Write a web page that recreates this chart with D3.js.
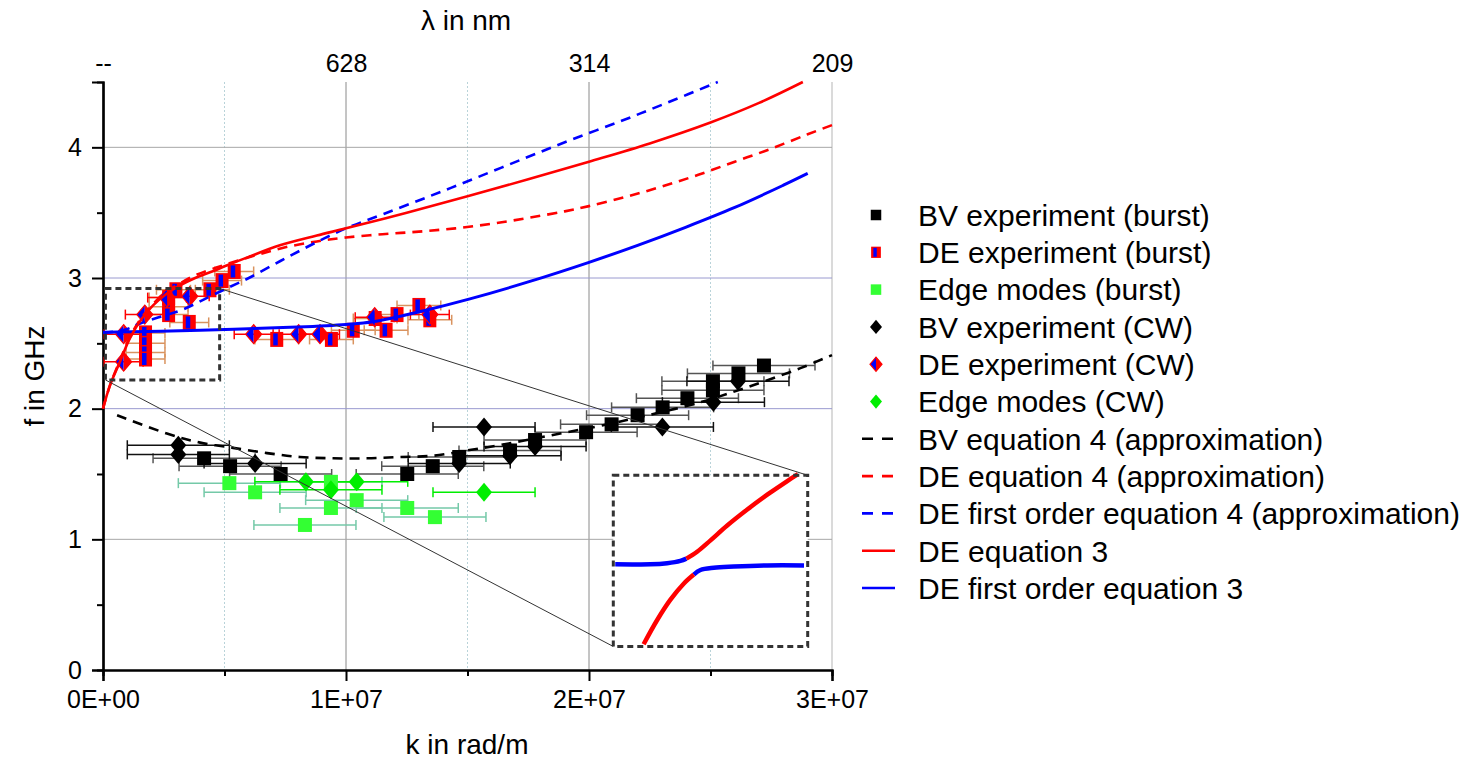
<!DOCTYPE html>
<html>
<head>
<meta charset="utf-8">
<script src="https://cdn.jsdelivr.net/npm/d3@7/dist/d3.min.js"></script>
<style>
    body { margin: 0; background: #fff; }
    text { font-family: "Liberation Sans", Arial, sans-serif; fill: #000; }
</style>
</head>
<body>
<svg id="chart" width="1466" height="763"></svg>
<script>
// axis ticks
const xTicks = [0, 1e7, 2e7, 3e7];
const xTickLabels = ['0E+00', '1E+07', '2E+07', '3E+07'];
const xMinorTicks = [0.5e7, 1.5e7, 2.5e7];
const topTickLabels = ['--', '628', '314', '209'];
const yTicks = [0, 1, 2, 3, 4];
const yMinorTicks = [0.5, 1.5, 2.5, 3.5];

// measured points, k in rad/m, f in GHz, err = k uncertainty
const bvBurstK = [4.16e6, 5.23e6, 7.31e6, 12.52e6, 13.57e6, 14.66e6, 16.75e6, 17.78e6, 19.88e6, 20.93e6, 22.0e6, 23.03e6, 24.05e6, 25.1e6, 25.1e6, 26.15e6, 27.2e6];
const bvBurstF = [1.62, 1.56, 1.50, 1.50, 1.56, 1.63, 1.68, 1.76, 1.82, 1.88, 1.95, 2.01, 2.08, 2.21, 2.14, 2.27, 2.33];
const bvBurstErr = [2.1e6, 2.1e6, 2.1e6, 2.1e6, 2.1e6, 2.1e6, 2.1e6, 2.1e6, 2.1e6, 2.1e6, 2.1e6, 2.1e6, 2.1e6, 2.1e6, 2.1e6, 2.1e6, 2.1e6];

const deBurstK = [1.75e6, 1.75e6, 1.75e6, 1.75e6, 2.7e6, 2.7e6, 2.7e6, 3.0e6, 3.55e6, 4.4e6, 4.9e6, 5.4e6, 7.15e6, 9.4e6, 10.3e6, 11.65e6, 11.2e6, 12.1e6, 13.0e6, 13.45e6];
const deBurstF = [2.58, 2.50, 2.43, 2.38, 2.85, 2.78, 2.72, 2.91, 2.66, 2.91, 2.98, 3.05, 2.53, 2.53, 2.60, 2.60, 2.69, 2.72, 2.79, 2.68];
const deBurstErr = [0.8e6, 0.8e6, 0.8e6, 0.8e6, 0.8e6, 0.8e6, 0.8e6, 0.8e6, 0.8e6, 0.8e6, 0.8e6, 0.8e6, 0.9e6, 0.9e6, 0.9e6, 0.9e6, 0.9e6, 0.9e6, 0.9e6, 0.9e6];

const edgeBurstK = [5.2e6, 6.26e6, 9.38e6, 9.38e6, 10.44e6, 12.52e6, 13.66e6, 8.31e6];
const edgeBurstF = [1.43, 1.36, 1.44, 1.24, 1.30, 1.24, 1.17, 1.11];
const edgeBurstErr = [2.1e6, 2.1e6, 2.1e6, 2.1e6, 2.1e6, 2.1e6, 2.1e6, 2.1e6];

const bvCwK = [3.1e6, 3.1e6, 6.26e6, 14.66e6, 15.68e6, 16.75e6, 17.78e6, 23.02e6, 25.12e6, 26.13e6];
const bvCwF = [1.72, 1.65, 1.58, 1.58, 1.86, 1.64, 1.71, 1.86, 2.05, 2.21];
const bvCwErr = [2.1e6, 2.1e6, 2.1e6, 2.1e6, 2.1e6, 2.1e6, 2.1e6, 2.1e6, 2.1e6, 2.1e6];

const deCwK = [0.85e6, 0.85e6, 1.72e6, 2.64e6, 3.57e6, 6.2e6, 8.05e6, 8.93e6, 11.18e6, 13.45e6];
const deCwF = [2.57, 2.36, 2.72, 2.85, 2.86, 2.57, 2.57, 2.57, 2.70, 2.72];
const deCwErr = [0.8e6, 0.8e6, 0.8e6, 0.8e6, 0.8e6, 0.8e6, 0.8e6, 0.8e6, 0.8e6, 0.8e6];

const edgeCwK = [8.35e6, 9.38e6, 10.44e6, 15.68e6];
const edgeCwF = [1.44, 1.38, 1.44, 1.36];
const edgeCwErr = [2.1e6, 2.1e6, 2.1e6, 2.1e6];

// model curves
const bvEq4K = [0.58e6, 2.63e6, 4.0e6, 5.35e6, 6.75e6, 8.1e6, 9.47e6, 10.86e6, 12.2e6, 13.6e6, 14.98e6, 16.3e6, 17.7e6, 19.1e6, 20.5e6, 22.2e6, 24.6e6, 26.6e6, 28.7e6, 30.0e6];
const bvEq4F = [1.95, 1.81, 1.74, 1.70, 1.66, 1.63, 1.62, 1.62, 1.63, 1.64, 1.68, 1.72, 1.77, 1.82, 1.87, 1.94, 2.05, 2.17, 2.31, 2.41];

const deEq4K = [0, 0.29e6, 0.7e6, 1.11e6, 1.6e6, 2.06e6, 2.55e6, 3.09e6, 3.79e6, 5.0e6, 6.3e6, 7.5e6, 8.8e6, 10.0e6, 11.5e6, 13.0e6, 14.5e6, 16.0e6, 17.5e6, 19.0e6, 20.0e6, 21.5e6, 23.0e6, 24.5e6, 26.0e6, 27.5e6, 29.0e6, 30.0e6];
const deEq4F = [2.0, 2.18, 2.37, 2.55, 2.70, 2.80, 2.89, 2.95, 3.02, 3.10, 3.175, 3.235, 3.28, 3.31, 3.335, 3.355, 3.38, 3.415, 3.46, 3.51, 3.55, 3.62, 3.70, 3.79, 3.89, 3.99, 4.10, 4.17];

const deFirstEq4K = [0, 0.5e6, 1.0e6, 1.5e6, 2.3e6, 3.3e6, 4.3e6, 5.2e6, 6.0e6, 7.3e6, 8.64e6, 10.0e6, 11.55e6, 13.5e6, 15.4e6, 17.4e6, 19.3e6, 21.3e6, 23.2e6, 25.3e6];
const deFirstEq4F = [2.58, 2.59, 2.61, 2.65, 2.70, 2.76, 2.85, 2.93, 3.0, 3.13, 3.26, 3.38, 3.49, 3.63, 3.77, 3.92, 4.06, 4.20, 4.34, 4.50];

const deEq3K = [0, 0.29e6, 0.7e6, 1.11e6, 1.6e6, 2.06e6, 2.55e6, 3.09e6, 3.79e6, 4.49e6, 5.14e6, 5.97e6, 7.28e6, 8.8e6, 10.0e6, 12.5e6, 15.0e6, 17.5e6, 20.0e6, 22.5e6, 25.0e6, 27.0e6, 28.8e6];
const deEq3F = [2.0, 2.18, 2.36, 2.54, 2.69, 2.79, 2.87, 2.935, 3.0, 3.05, 3.10, 3.16, 3.25, 3.325, 3.38, 3.50, 3.625, 3.755, 3.89, 4.03, 4.19, 4.34, 4.50];

const deFirstEq3K = [0, 4.0e6, 8.0e6, 10.0e6, 11.1e6, 13.2e6, 15.1e6, 17.5e6, 20.0e6, 22.0e6, 24.0e6, 26.0e6, 28.0e6, 29.0e6];
const deFirstEq3F = [2.585, 2.60, 2.625, 2.645, 2.665, 2.75, 2.84, 2.97, 3.12, 3.25, 3.39, 3.54, 3.71, 3.80];

// magnified anticrossing shown in the inset
const insetUpperBlueK = [1.21e6, 1.391e6, 1.477e6, 1.545e6, 1.576e6];
const insetUpperBlueF = [2.572, 2.572, 2.573, 2.575, 2.577];
const insetUpperRedK = [1.576e6, 1.631e6, 1.70e6, 1.786e6, 1.889e6, 1.992e6, 2.095e6, 2.15e6];
const insetUpperRedF = [2.577, 2.583, 2.593, 2.606, 2.620, 2.633, 2.645, 2.651];
const insetLowerRedK = [1.356e6, 1.425e6, 1.494e6, 1.562e6, 1.614e6];
const insetLowerRedF = [2.502, 2.523, 2.541, 2.555, 2.563];
const insetLowerBlueK = [1.614e6, 1.648e6, 1.717e6, 1.82e6, 1.992e6, 2.181e6];
const insetLowerBlueF = [2.563, 2.567, 2.569, 2.570, 2.571, 2.571];

const legendLabels = [
    'BV experiment (burst)', 'DE experiment (burst)', 'Edge modes (burst)',
    'BV experiment (CW)', 'DE experiment (CW)', 'Edge modes (CW)',
    'BV equation 4 (approximation)', 'DE equation 4 (approximation)',
    'DE first order equation 4 (approximation)', 'DE equation 3', 'DE first order equation 3'
];

const colors = {
    red: '#ff0000',
    blue: '#0000ff',
    green: '#33ff33',
    greenCw: '#00ee00',
    deBar: '#d9935f',
    edgeBar: '#74c9a8',
    bvBar: '#555555'
};

const zip = (ks, fs, es) => ks.map((k, i) => ({ k, f: fs[i], e: es ? es[i] : 0 }));

const svg = d3.select('#chart');
const plot = { left: 103, right: 832, top: 82, bottom: 670 };

const x = d3.scaleLinear().domain([0, 3e7]).range([plot.left, plot.right]);
const y = d3.scaleLinear().domain([0, 4.5]).range([plot.bottom, plot.top]);

// zoom window (main plot) and the inset box, both in data units
const zoomWindow = { k0: 0.1e6, k1: 4.8e6, f0: 2.22, f1: 2.92 };
const insetBox = { k0: 21e6, k1: 29e6, f0: 0.18, f1: 1.49 };

// ---------- grid ----------
const grid = svg.append('g');
grid.selectAll('line.minor-x')
    .data(xMinorTicks)
    .enter().append('line')
    .attr('x1', d => x(d)).attr('x2', d => x(d))
    .attr('y1', plot.top).attr('y2', plot.bottom)
    .attr('stroke', '#b9d3d9').attr('stroke-dasharray', '2,2');
grid.selectAll('line.major-x')
    .data(xTicks.slice(1))
    .enter().append('line')
    .attr('x1', d => x(d)).attr('x2', d => x(d))
    .attr('y1', plot.top).attr('y2', plot.bottom)
    .attr('stroke', (d, i) => i === 2 ? '#b5b5b5' : '#8a8a8a');
grid.selectAll('line.major-y')
    .data(yTicks.slice(1))
    .enter().append('line')
    .attr('x1', plot.left).attr('x2', plot.right)
    .attr('y1', d => y(d)).attr('y2', d => y(d))
    .attr('stroke', d => (d === 2 || d === 3) ? '#9a9ad0' : '#a8a8a8');

// ---------- axes ----------
const styleAxis = g => {
    g.select('.domain').attr('stroke', '#000').attr('stroke-width', 2.2);
    g.selectAll('.tick line').attr('stroke', '#000').attr('stroke-width', 2);
    g.selectAll('.tick text').style('font-size', '25px').attr('fill', '#000');
};

svg.append('g')
    .attr('transform', `translate(0,${plot.bottom})`)
    .call(d3.axisBottom(x).tickValues(xMinorTicks).tickSize(6).tickFormat(''))
    .call(styleAxis);
svg.append('g')
    .attr('transform', `translate(0,${plot.bottom})`)
    .call(d3.axisBottom(x).tickValues(xTicks).tickSize(11).tickSizeOuter(11).tickPadding(9)
        .tickFormat((d, i) => xTickLabels[i]))
    .call(styleAxis);

svg.append('g')
    .attr('transform', `translate(${plot.left},0)`)
    .call(d3.axisLeft(y).tickValues(yMinorTicks).tickSize(6).tickFormat(''))
    .call(styleAxis);
svg.append('g')
    .attr('transform', `translate(${plot.left},0)`)
    .call(d3.axisLeft(y).tickValues(yTicks).tickSize(11).tickSizeOuter(11).tickPadding(10)
        .tickFormat(d3.format('d')))
    .call(styleAxis);

// top axis: wavelength labels only
svg.append('g')
    .attr('transform', `translate(0,${plot.top})`)
    .call(d3.axisTop(x).tickValues(xTicks).tickSize(0).tickPadding(10)
        .tickFormat((d, i) => topTickLabels[i]))
    .call(g => g.select('.domain').remove())
    .call(g => g.selectAll('.tick text').style('font-size', '25px').attr('fill', '#000'));

svg.append('text')
    .attr('x', 466).attr('y', 30)
    .attr('text-anchor', 'middle')
    .style('font-size', '28px')
    .text('λ in nm');
svg.append('text')
    .attr('x', 467).attr('y', 754)
    .attr('text-anchor', 'middle')
    .style('font-size', '28px')
    .text('k in rad/m');
svg.append('text')
    .attr('transform', `translate(44,${(plot.top + plot.bottom) / 2}) rotate(-90)`)
    .attr('text-anchor', 'middle')
    .style('font-size', '28px')
    .text('f in GHz');

// ---------- markers ----------
const diamondPath = (w, h) => `M0,${-h}L${w},0L0,${h}L${-w},0Z`;

const drawErrors = (pts, color) => {
    const g = svg.append('g').attr('stroke', color).attr('stroke-width', 1.5).attr('fill', 'none');
    pts.forEach(p => {
        const cy = y(p.f);
        g.append('line').attr('x1', x(p.k - p.e)).attr('x2', x(p.k + p.e)).attr('y1', cy).attr('y2', cy);
        g.append('line').attr('x1', x(p.k - p.e)).attr('x2', x(p.k - p.e)).attr('y1', cy - 5).attr('y2', cy + 5);
        g.append('line').attr('x1', x(p.k + p.e)).attr('x2', x(p.k + p.e)).attr('y1', cy - 5).attr('y2', cy + 5);
    });
};

const drawMarker = (g, kind, size) => {
    const s = size || 1;
    if (kind === 'square') {
        g.append('rect').attr('x', -7 * s).attr('y', -7 * s).attr('width', 14 * s).attr('height', 14 * s);
    } else if (kind === 'deSquare') {
        g.append('rect').attr('x', -6.5 * s).attr('y', -7.5 * s).attr('width', 13 * s).attr('height', 15 * s)
            .attr('fill', colors.red);
        g.append('rect').attr('x', -3.5 * s).attr('y', -6 * s).attr('width', 4.5 * s).attr('height', 12 * s)
            .attr('fill', colors.blue);
    } else if (kind === 'diamond') {
        g.append('path').attr('d', diamondPath(8 * s, 9.5 * s));
    } else if (kind === 'deDiamond') {
        g.append('path').attr('d', `M0,${-9.5 * s}L${-8 * s},0L0,${9.5 * s}Z`).attr('fill', colors.blue);
        g.append('path').attr('d', `M0,${-9.5 * s}L${8 * s},0L0,${9.5 * s}Z`).attr('fill', colors.red);
        g.append('path').attr('d', diamondPath(8 * s, 9.5 * s))
            .attr('fill', 'none').attr('stroke', colors.red).attr('stroke-width', 1.2);
    }
};

const drawPoints = (pts, kind, fill) => {
    const g = svg.append('g').attr('fill', fill);
    pts.forEach(p => {
        drawMarker(g.append('g').attr('transform', `translate(${x(p.k)},${y(p.f)})`), kind);
    });
};

const bvBurst = zip(bvBurstK, bvBurstF, bvBurstErr);
const deBurst = zip(deBurstK, deBurstF, deBurstErr);
const edgeBurst = zip(edgeBurstK, edgeBurstF, edgeBurstErr);
const bvCw = zip(bvCwK, bvCwF, bvCwErr);
const deCw = zip(deCwK, deCwF, deCwErr);
const edgeCw = zip(edgeCwK, edgeCwF, edgeCwErr);

drawErrors(edgeBurst, colors.edgeBar);
drawErrors(edgeCw, colors.greenCw);
drawErrors(bvBurst, colors.bvBar);
drawErrors(bvCw, '#111');
drawErrors(deBurst, colors.deBar);
drawErrors(deCw, colors.red);

drawPoints(edgeBurst, 'square', colors.green);
drawPoints(edgeCw, 'diamond', colors.greenCw);
drawPoints(bvBurst, 'square', '#000');
drawPoints(bvCw, 'diamond', '#000');
drawPoints(deBurst, 'deSquare', colors.red);
drawPoints(deCw, 'deDiamond', colors.red);

// ---------- curves ----------
const line = d3.line()
    .x(d => x(d.k))
    .y(d => y(d.f))
    .curve(d3.curveCatmullRom.alpha(0.5));

const curves = [
    { pts: zip(bvEq4K, bvEq4F), color: '#000', dash: '10,7', width: 2.6 },
    { pts: zip(deEq4K, deEq4F), color: colors.red, dash: '10,7', width: 2.6 },
    { pts: zip(deFirstEq4K, deFirstEq4F), color: colors.blue, dash: '10,7', width: 2.6 },
    { pts: zip(deFirstEq3K, deFirstEq3F), color: colors.blue, dash: null, width: 3 },
    { pts: zip(deEq3K, deEq3F), color: colors.red, dash: null, width: 2.6 }
];

svg.append('g')
    .selectAll('path')
    .data(curves)
    .enter().append('path')
    .attr('d', d => line(d.pts))
    .attr('fill', 'none')
    .attr('stroke', d => d.color)
    .attr('stroke-width', d => d.width)
    .attr('stroke-dasharray', d => d.dash);

// ---------- zoom window, connectors and inset ----------
const zoomG = svg.append('g');
zoomG.append('line')
    .attr('x1', x(zoomWindow.k1)).attr('y1', y(zoomWindow.f1))
    .attr('x2', x(insetBox.k1)).attr('y2', y(insetBox.f1))
    .attr('stroke', '#333').attr('stroke-width', 1);
zoomG.append('line')
    .attr('x1', x(zoomWindow.k0)).attr('y1', y(zoomWindow.f0))
    .attr('x2', x(insetBox.k0)).attr('y2', y(insetBox.f0))
    .attr('stroke', '#333').attr('stroke-width', 1);
zoomG.append('rect')
    .attr('x', x(zoomWindow.k0)).attr('y', y(zoomWindow.f1))
    .attr('width', x(zoomWindow.k1) - x(zoomWindow.k0))
    .attr('height', y(zoomWindow.f0) - y(zoomWindow.f1))
    .attr('fill', 'none').attr('stroke', '#333').attr('stroke-width', 3).attr('stroke-dasharray', '6,4');

const insetG = svg.append('g');
insetG.append('rect')
    .attr('x', x(insetBox.k0)).attr('y', y(insetBox.f1))
    .attr('width', x(insetBox.k1) - x(insetBox.k0))
    .attr('height', y(insetBox.f0) - y(insetBox.f1))
    .attr('fill', '#fff');

const xi = d3.scaleLinear().domain([1.2e6, 2.2e6]).range([x(insetBox.k0), x(insetBox.k1)]);
const yi = d3.scaleLinear().domain([2.50, 2.65]).range([y(insetBox.f0), y(insetBox.f1)]);
const insetLine = d3.line().x(d => xi(d.k)).y(d => yi(d.f)).curve(d3.curveCatmullRom.alpha(0.5));

const insetCurves = [
    { pts: zip(insetUpperBlueK, insetUpperBlueF), color: colors.blue },
    { pts: zip(insetLowerBlueK, insetLowerBlueF), color: colors.blue },
    { pts: zip(insetUpperRedK, insetUpperRedF), color: colors.red },
    { pts: zip(insetLowerRedK, insetLowerRedF), color: colors.red }
];
insetG.selectAll('path')
    .data(insetCurves)
    .enter().append('path')
    .attr('d', d => insetLine(d.pts))
    .attr('fill', 'none')
    .attr('stroke', d => d.color)
    .attr('stroke-width', 4.5);

insetG.append('rect')
    .attr('x', x(insetBox.k0)).attr('y', y(insetBox.f1))
    .attr('width', x(insetBox.k1) - x(insetBox.k0))
    .attr('height', y(insetBox.f0) - y(insetBox.f1))
    .attr('fill', 'none').attr('stroke', '#333').attr('stroke-width', 3).attr('stroke-dasharray', '6,4');

// ---------- legend ----------
const legendKinds = [
    { marker: 'square', fill: '#000' },
    { marker: 'deSquare', fill: colors.red },
    { marker: 'square', fill: colors.green },
    { marker: 'diamond', fill: '#000' },
    { marker: 'deDiamond', fill: colors.red },
    { marker: 'diamond', fill: colors.greenCw },
    { line: '#000', dash: '11,9' },
    { line: colors.red, dash: '11,9' },
    { line: colors.blue, dash: '11,9' },
    { line: colors.red, dash: null },
    { line: colors.blue, dash: null }
];

const legend = svg.append('g').attr('transform', 'translate(876,215)');
const rows = legend.selectAll('g')
    .data(legendLabels)
    .enter().append('g')
    .attr('transform', (d, i) => `translate(0,${i * 37.3})`);

rows.each(function(d, i) {
    const row = d3.select(this);
    const kind = legendKinds[i];
    if (kind.marker) {
        drawMarker(row.append('g').attr('fill', kind.fill), kind.marker, 0.75);
    } else {
        row.append('line')
            .attr('x1', -14).attr('x2', 19)
            .attr('stroke', kind.line).attr('stroke-width', 2.6)
            .attr('stroke-dasharray', kind.dash);
    }
    row.append('text')
        .attr('x', 42).attr('dy', '0.36em')
        .style('font-size', '30px')
        .text(d);
});
</script>
</body>
</html>
